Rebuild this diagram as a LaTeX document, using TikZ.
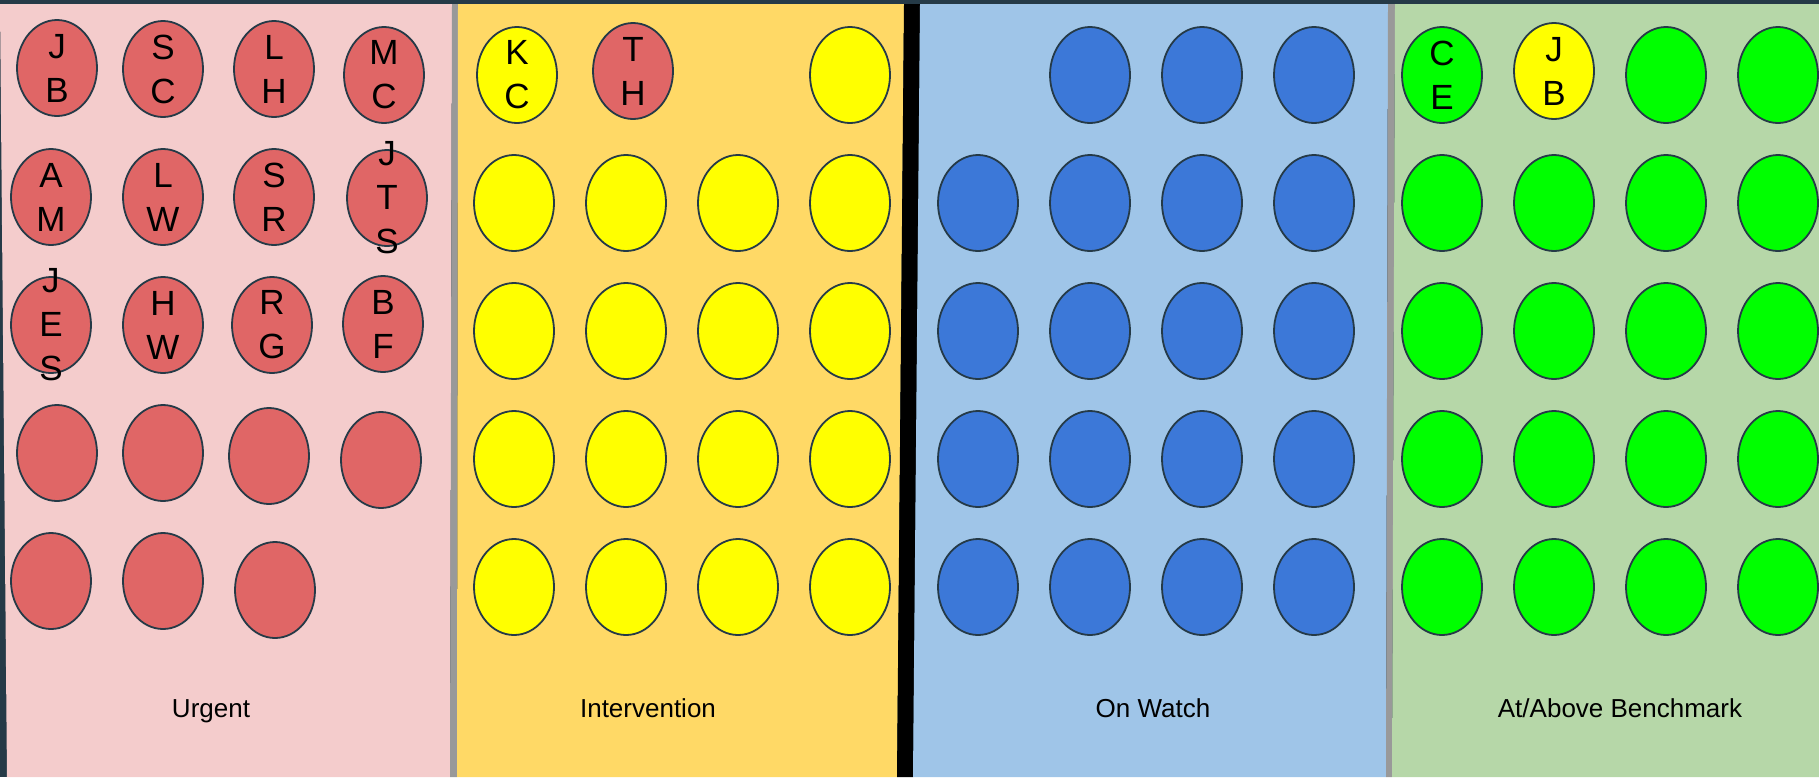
\documentclass[tikz,border=0pt]{standalone}
\usepackage{fontspec}
\setmainfont{Liberation Sans}
\usetikzlibrary{shapes.geometric}
\definecolor{frame}{HTML}{253A47}
\definecolor{pinkbg}{HTML}{F4CCCC}
\definecolor{redfill}{HTML}{E06666}
\definecolor{yellowbg}{HTML}{FFD966}
\definecolor{yellowfill}{HTML}{FFFF00}
\definecolor{bluebg}{HTML}{9FC5E8}
\definecolor{bluefill}{HTML}{3C78D8}
\definecolor{greenbg}{HTML}{B6D7A8}
\definecolor{greenfill}{HTML}{00FF00}
\definecolor{divider}{HTML}{999999}
\begin{document}
\begin{tikzpicture}[x=1pt,y=-1pt,
  dot/.style={ellipse, draw=frame, line width=1.8pt, minimum width=80pt, minimum height=96pt, inner sep=0pt},
  reddot/.style={dot, fill=redfill},
  yeldot/.style={dot, fill=yellowfill},
  bludot/.style={dot, fill=bluefill},
  grndot/.style={dot, fill=greenfill},
  initials/.style={font=\fontsize{35}{44}\selectfont, align=center, inner sep=0pt, text=black},
  caption/.style={font=\fontsize{26}{30}\selectfont, anchor=base, inner sep=0pt, text=black}]
\useasboundingbox (0,0) rectangle (1819,777);
% backgrounds
\fill[frame] (0,0) rectangle (1819,777);
\fill[pinkbg] (0,4) -- (452,4) -- (450,777) -- (7,777) -- cycle;
\fill[divider] (452,4) -- (458,4) -- (457,777) -- (450,777) -- cycle;
\fill[yellowbg] (458,4) -- (904,4) -- (897,777) -- (457,777) -- cycle;
\fill[black] (904,4) -- (920,4) -- (913,777) -- (897,777) -- cycle;
\fill[bluebg] (920,4) -- (1388,4) -- (1386,777) -- (913,777) -- cycle;
\fill[divider] (1388,4) -- (1395,4) -- (1392,777) -- (1386,777) -- cycle;
\fill[greenbg] (1395,4) -- (1819,4) -- (1819,777) -- (1392,777) -- cycle;

% Urgent panel
\node[reddot] (u11) at (57,68) {};  \node[initials] (tu11) at (u11) {J\\B};
\node[reddot] (u12) at (163,69) {}; \node[initials] (tu12) at (u12) {S\\C};
\node[reddot] (u13) at (274,69) {}; \node[initials] (tu13) at (u13) {L\\H};
\node[reddot] (u14) at (384,75) {}; \node[initials] (tu14) at (u14) {M\\C};
\node[reddot] (u21) at (51,197) {}; \node[initials] (tu21) at (u21) {A\\M};
\node[reddot] (u22) at (163,197) {}; \node[initials] (tu22) at (u22) {L\\W};
\node[reddot] (u23) at (274,197) {}; \node[initials] (tu23) at (u23) {S\\R};
\node[reddot] (u24) at (387,198) {}; \node[initials] (tu24) at (u24) {J\\T\\S};
\node[reddot] (u31) at (51,325) {}; \node[initials] (tu31) at (u31) {J\\E\\S};
\node[reddot] (u32) at (163,325) {}; \node[initials] (tu32) at (u32) {H\\W};
\node[reddot] (u33) at (272,325) {}; \node[initials] (tu33) at (u33) {R\\G};
\node[reddot] (u34) at (383,324) {}; \node[initials] (tu34) at (u34) {B\\F};
\node[reddot] (u41) at (57,453) {};
\node[reddot] (u42) at (163,453) {};
\node[reddot] (u43) at (269,456) {};
\node[reddot] (u44) at (381,460) {};
\node[reddot] (u51) at (51,581) {};
\node[reddot] (u52) at (163,581) {};
\node[reddot] (u53) at (275,590) {};

% Intervention panel
\node[yeldot] (i11) at (517,75) {}; \node[initials] (ti11) at (i11) {K\\C};
\node[reddot] (i12) at (633,71) {}; \node[initials] (ti12) at (i12) {T\\H};
\node[yeldot] (i14) at (850,75) {};
\foreach \r/\y in {2/203,3/331,4/459,5/587}{
  \foreach \c/\x in {1/514,2/626,3/738,4/850}{
    \node[yeldot] (i\r\c) at (\x,\y) {};
  }
}

% On Watch panel
\foreach \c/\x in {2/1090,3/1202,4/1314}{
  \node[bludot] (w1\c) at (\x,75) {};
}
\foreach \r/\y in {2/203,3/331,4/459,5/587}{
  \foreach \c/\x in {1/978,2/1090,3/1202,4/1314}{
    \node[bludot] (w\r\c) at (\x,\y) {};
  }
}

% At/Above Benchmark panel
\node[grndot] (g11) at (1442,75) {}; \node[initials] (tg11) at (g11) {C\\E};
\node[yeldot] (g12) at (1554,71) {}; \node[initials] (tg12) at (g12) {J\\B};
\node[grndot] (g13) at (1666,75) {};
\node[grndot] (g14) at (1778,75) {};
\foreach \r/\y in {2/203,3/331,4/459,5/587}{
  \foreach \c/\x in {1/1442,2/1554,3/1666,4/1778}{
    \node[grndot] (g\r\c) at (\x,\y) {};
  }
}

% captions
\node[caption] (cu) at (211,717) {Urgent};
\node[caption] (ci) at (648,717) {Intervention};
\node[caption] (cw) at (1153,717) {On Watch};
\node[caption] (cg) at (1620,717) {At/Above Benchmark};
\end{tikzpicture}
\end{document}
